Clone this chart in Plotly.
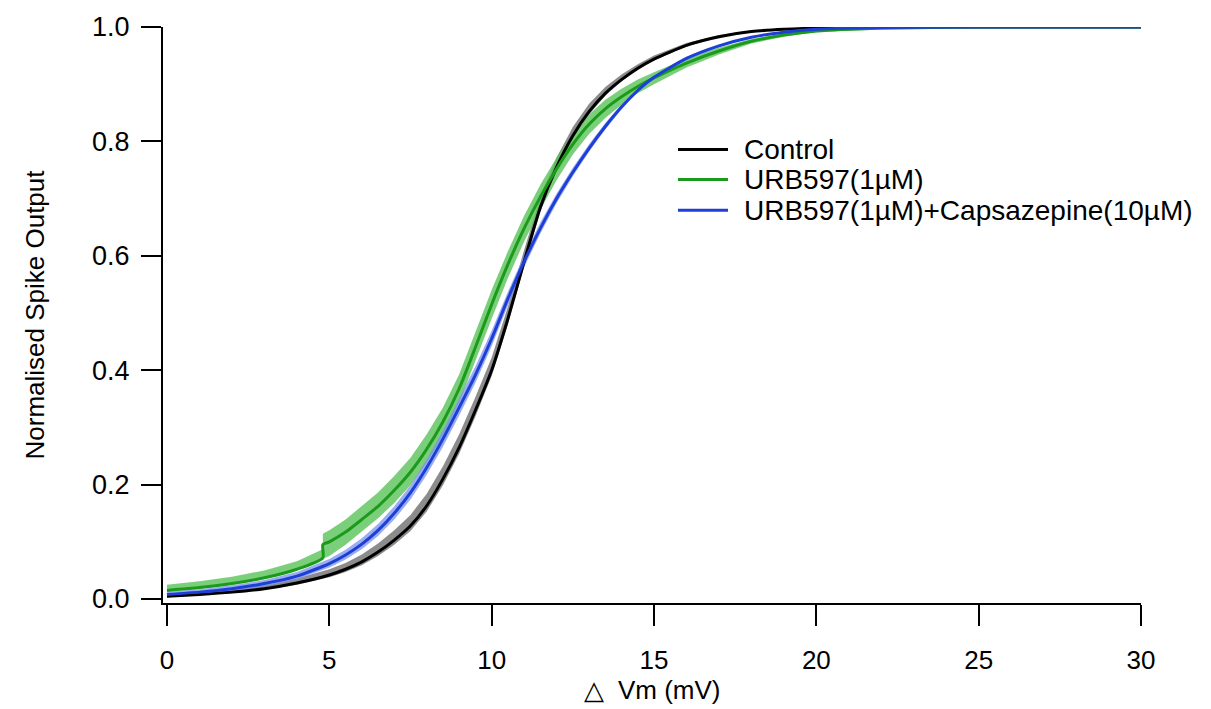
import plotly.graph_objects as go

# ---------------- data ----------------
series_names = ["Control", "URB597(1µM)", "URB597(1µM)+Capsazepine(10µM)"]

x_common = [0, 1, 2, 3, 4, 5, 5.5, 6, 6.5, 7, 7.5, 8, 8.5, 9, 9.5, 10, 10.5, 11,
            11.5, 12, 12.5, 13, 13.5, 14, 14.5, 15, 16, 17, 18, 19, 20, 22, 25, 30]

control_y = [.005, .008, .012, .018, .028, .042, .052, .065, .082, .103, .128, .163,
             .210, .265, .330, .400, .490, .590, .685, .755, .810, .852, .884, .908,
             .928, .944, .968, .983, .992, .996, .998, 1.0, 1.0, 1.0]
control_hi = [.009, .012, .017, .024, .036, .052, .063, .078, .097, .120, .147, .184,
              .232, .288, .353, .422, .511, .610, .703, .772, .825, .866, .895, .917,
              .935, .950, .972, .986, .994, .997, .999, 1.0, 1.0, 1.0]
control_lo = [.003, .006, .010, .016, .025, .038, .047, .059, .075, .095, .119, .153,
              .199, .254, .319, .390, .480, .581, .677, .748, .804, .847, .880, .905,
              .925, .942, .966, .982, .991, .995, .997, 1.0, 1.0, 1.0]

x_urb = [0, 1, 2, 3, 4, 4.8, 4.8, 5, 5.5, 6, 6.5, 7, 7.5, 8, 8.5, 9, 9.5, 10, 10.5,
         11, 11.5, 12, 12.5, 13, 13.5, 14, 14.5, 15, 16, 17, 18, 19, 20, 22, 25, 30]
urb_y = [.015, .020, .027, .037, .052, .072, .095, .100, .117, .139, .162, .190, .222,
         .262, .310, .368, .440, .515, .585, .648, .703, .752, .795, .830, .857, .878,
         .896, .911, .937, .958, .975, .986, .993, .998, 1.0, 1.0]
urb_hi = [.025, .031, .039, .050, .066, .087, .114, .120, .139, .162, .186, .215, .247,
          .288, .335, .393, .465, .540, .608, .670, .724, .772, .813, .847, .873, .892,
          .908, .921, .945, .964, .979, .989, .995, .999, 1.0, 1.0]
urb_lo = [.013, .018, .025, .035, .050, .070, .070, .075, .095, .118, .141, .168, .199,
          .238, .285, .343, .415, .490, .561, .625, .681, .732, .777, .813, .841, .864,
          .884, .900, .929, .952, .971, .983, .991, .997, 1.0, 1.0]

cpz_y = [.008, .012, .018, .027, .040, .062, .077, .096, .120, .150, .186, .230, .280,
         .335, .392, .455, .525, .590, .648, .700, .746, .788, .826, .860, .889, .912,
         .945, .967, .982, .991, .996, .999, 1.0, 1.0]
cpz_hi = [.013, .017, .024, .033, .047, .070, .086, .106, .131, .162, .199, .244, .295,
          .350, .407, .469, .537, .601, .658, .709, .754, .795, .832, .865, .893, .915,
          .948, .969, .983, .992, .997, .999, 1.0, 1.0]
cpz_lo = [.004, .008, .013, .022, .034, .055, .069, .087, .110, .139, .174, .217, .266,
          .321, .378, .442, .513, .580, .639, .692, .739, .782, .821, .856, .886, .909,
          .942, .965, .981, .990, .995, .998, 1.0, 1.0]

x_ticks = [0, 5, 10, 15, 20, 25, 30]
y_ticks = [0.0, 0.2, 0.4, 0.6, 0.8, 1.0]

# ---------------- styles ----------------
line_colors = ["#000000", "#1c9a1c", "#1d3fd6"]
band_colors = ["rgba(120,120,120,0.85)", "rgba(90,195,90,0.80)", "rgba(120,145,240,0.75)"]
FONT = "Liberation Sans, Arial, sans-serif"

fig = go.Figure()

sets = [
    (x_common, control_y, control_hi, control_lo),
    (x_urb, urb_y, urb_hi, urb_lo),
    (x_common, cpz_y, cpz_hi, cpz_lo),
]

# shaded bands
for (xs, ys, hi, lo), bc in zip(sets, band_colors):
    fig.add_trace(go.Scatter(
        x=list(xs) + list(xs)[::-1], y=list(hi) + list(lo)[::-1],
        fill="toself", fillcolor=bc, mode="lines",
        line=dict(width=0, color=bc, shape="linear"),
        hoverinfo="skip", showlegend=False))

# fitted lines
for (xs, ys, hi, lo), lc, name in zip(sets, line_colors, series_names):
    fig.add_trace(go.Scatter(
        x=xs, y=ys, mode="lines", name=name,
        line=dict(color=lc, width=3, shape="spline", smoothing=0.6),
        showlegend=False, cliponaxis=False))

# manual legend
legend_y = [150, 180, 211]
for name, lc, yy in zip(series_names, line_colors, legend_y):
    fig.add_shape(type="line", xref="paper", yref="paper",
                  x0=(678 - 163) / 978, x1=(728 - 163) / 978,
                  y0=1 - (yy - 27) / 578, y1=1 - (yy - 27) / 578,
                  line=dict(color=lc, width=3))
    fig.add_annotation(xref="paper", yref="paper",
                       x=(742 - 163) / 978, y=1 - (yy - 27) / 578,
                       text=name, showarrow=False, xanchor="left", yanchor="middle",
                       font=dict(family=FONT, size=28, color="#000"))

fig.update_layout(
    width=1211, height=709,
    margin=dict(l=163, r=70, t=27, b=104),
    paper_bgcolor="white", plot_bgcolor="white",
    font=dict(family=FONT, color="#000"),
    xaxis=dict(range=[-0.123, 30], tickvals=x_ticks, ticktext=[str(v) for v in x_ticks],
               showgrid=False, zeroline=False, showline=True, linecolor="#000", linewidth=2,
               ticks="outside", ticklen=21, tickwidth=2, tickcolor="#000",
               tickfont=dict(family=FONT, size=26), ticklabelstandoff=12,
               title=dict(text="\u25b3\u00a0\u00a0Vm (mV)", font=dict(family=FONT, size=26),
                          standoff=4)),
    yaxis=dict(range=[-0.007, 1.0], tickvals=y_ticks, ticktext=[f"{v:.1f}" for v in y_ticks],
               showgrid=False, zeroline=False, showline=True, linecolor="#000", linewidth=2,
               ticks="outside", ticklen=20, tickwidth=2, tickcolor="#000",
               tickfont=dict(family=FONT, size=27), ticklabelstandoff=6,
               title=dict(text="Normalised Spike Output", font=dict(family=FONT, size=26),
                          standoff=40)),
)

fig.write_html("out.html")
